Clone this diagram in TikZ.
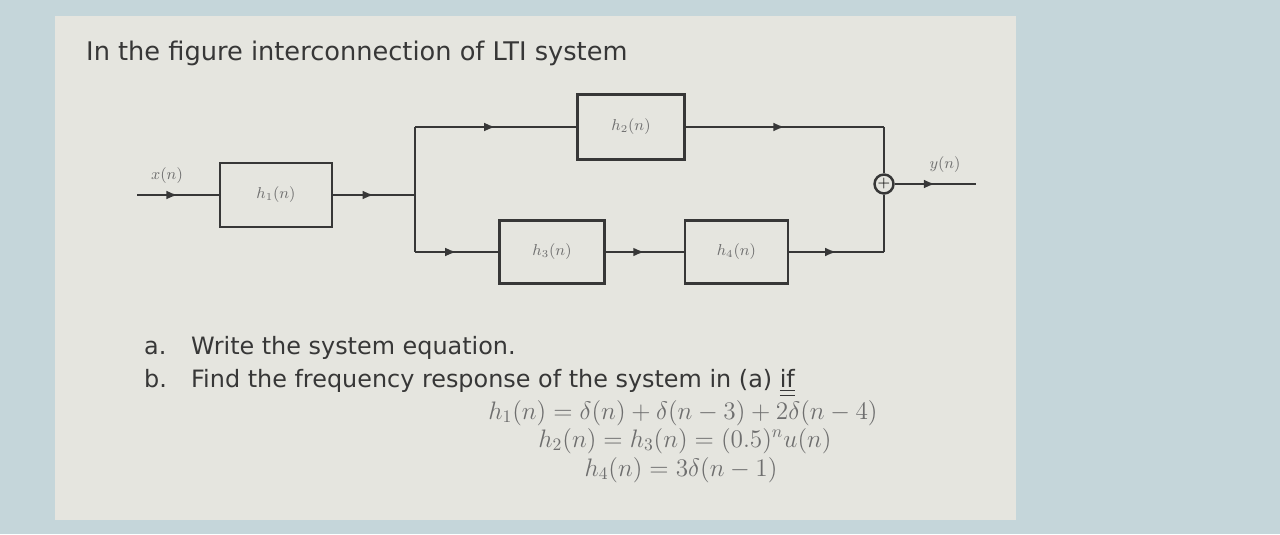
\documentclass[tikz,border=0pt]{standalone}
\usepackage{amsmath}
\usepackage{fontspec}
\setmainfont{DejaVu Sans}
\usepackage{tikz}
\usetikzlibrary{arrows.meta,positioning,decorations.markings}
\definecolor{screenblue}{RGB}{197,214,218}
\definecolor{pagegray}{RGB}{229,229,223}
\definecolor{inkdark}{RGB}{55,55,55}
\definecolor{inkfade}{RGB}{110,110,110}

\begin{document}
\begin{tikzpicture}[
  x=0.02cm, y=-0.02cm,
  blk/.style={rectangle, draw=inkdark, line width=1.4pt, text=inkfade,
              font=\fontsize{9}{10}\selectfont, inner sep=0pt},
  wire/.style={draw=inkdark, line width=1.4pt},
  arr/.style={wire, postaction={decorate},
              decoration={markings, mark=at position 0.5 with
                {\arrow{Latex[length=6.5pt,width=5pt]}}}},
  lbl/.style={text=inkfade, font=\fontsize{9}{10}\selectfont},
  txt/.style={anchor=base west, text=inkdark, font=\fontsize{13.6}{16}\selectfont},
  eqn/.style={anchor=base, text=inkfade, font=\fontsize{13.8}{16}\selectfont, inner sep=0pt}
]
  % screen and page
  \useasboundingbox (0,0) rectangle (1280,534);
  \fill[screenblue] (0,0) rectangle (1280,534);
  \fill[pagegray] (55,16) rectangle (1016,520);

  \node[txt, font=\fontsize{14.6}{17}\selectfont] (title) at (80,60)
    {In the figure interconnection of LTI system};

  % blocks
  \node[blk, minimum width=2.24cm, minimum height=1.28cm] (h1) at (276,195) {$h_1(n)$};
  \node[blk, minimum width=2.14cm, minimum height=1.30cm] (h2) at (631,127) {$h_2(n)$};
  \node[blk, minimum width=2.10cm, minimum height=1.26cm] (h3) at (552,252) {$h_3(n)$};
  \node[blk, minimum width=2.06cm, minimum height=1.26cm, right=1.56cm of h3] (h4) {$h_4(n)$};
  \node[circle, draw=inkdark, line width=1.4pt, inner sep=0pt, minimum size=0.38cm,
        font=\fontsize{9}{9}\selectfont] (sum) at (884,184) {$+$};

  \coordinate (xin)   at (137,195);
  \coordinate (split) at (415,195);
  \coordinate (topl)  at (415,127);
  \coordinate (botl)  at (415,252);
  \coordinate (topr)  at (884,127);
  \coordinate (botr)  at (884,252);
  \coordinate (yout)  at (976,184);

  \node[lbl] (xlab) at (167,176) {$x(n)$};
  \node[lbl] (ylab) at (945,165) {$y(n)$};

  % connections
  \draw[arr]  (xin) -- (h1);
  \draw[arr]  (h1) -- (split);
  \draw[wire] (topl) -- (botl);
  \draw[arr]  (topl) -- (h2);
  \draw[arr]  (botl) -- (h3);
  \draw[arr]  (h3) -- (h4);
  \draw[arr]  (h2) -- (topr);
  \draw[arr]  (h4) -- (botr);
  \draw[wire] (topr) -- (sum);
  \draw[wire] (botr) -- (sum);
  \draw[arr]  (sum) -- (yout);

  % questions
  \node[txt] (qa)  at (138,354) {a.};
  \node[txt] (qat) at (185,354) {Write the system equation.};
  \node[txt] (qb)  at (138,387) {b.};
  \node[txt] (qbt) at (185,387)
    {Find the frequency response of the system in (a) \underline{\underline{if}}};

  \node[eqn] (eq1) at (683,419) {$h_1(n)=\delta(n)+\delta(n-3)+2\delta(n-4)$};
  \node[eqn] (eq2) at (685,447) {$h_2(n)=h_3(n)=(0.5)^n u(n)$};
  \node[eqn] (eq3) at (681,476) {$h_4(n)=3\delta(n-1)$};
\end{tikzpicture}
\end{document}
